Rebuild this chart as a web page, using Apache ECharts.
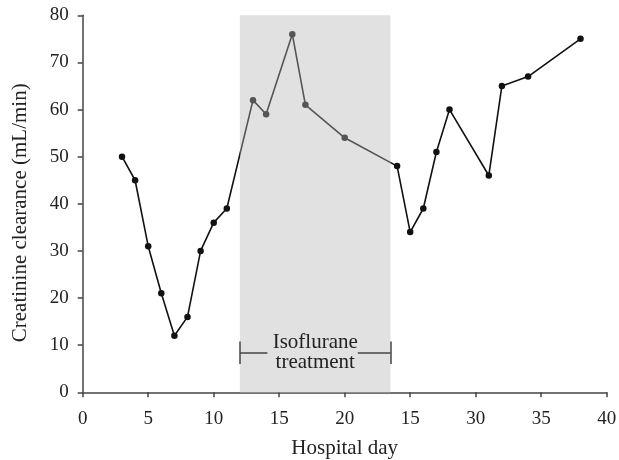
<!DOCTYPE html>
<html><head><meta charset="utf-8">
<script src="https://cdn.jsdelivr.net/npm/echarts@6/dist/echarts.min.js"></script>
<style>html,body{margin:0;padding:0;background:#fff}#c{width:619px;height:460px}</style>
</head><body><div id="c"></div>
<script>
const days = [3,4,5,6,7,8,9,10,11,13,14,16,17,20,24,25,26,27,28,31,32,34,38];
const clearance = [50,45,31,21,12,16,30,36,39,62,59,76,61,54,48,34,39,51,60,46,65,67,75];
const xTicks = [0,40,5];
const xTickLabels = ['0','5','10','15','20','15','30','35','40'];
const yTicks = [0,80,10];
const treatmentRange = [12,23.5];
const bracketY = 8.4;
const bracketGap = [14.1,21.0];
const treatmentLabel = 'Isoflurane\ntreatment';
const FONT = 'Liberation Serif';

const chart = echarts.init(document.getElementById('c'));
chart.setOption({
  animation:false,
  grid:{left:82.7,right:12.3,top:15.3,bottom:67.7,containLabel:false,outerBoundsMode:'none'},
  xAxis:{type:'value',min:xTicks[0],max:xTicks[1],interval:xTicks[2],
    name:'Hospital day',nameLocation:'middle',nameGap:46,
    nameTextStyle:{fontFamily:FONT,fontSize:21,color:'#222'},
    axisLine:{lineStyle:{color:'#444',width:1.5}},
    axisTick:{show:true,length:5,lineStyle:{color:'#444',width:1.5}},
    axisLabel:{fontFamily:FONT,fontSize:19,color:'#222',margin:17,
      formatter:v=>{const i=Math.round((v-xTicks[0])/xTicks[2]);return xTickLabels[i]!==undefined?xTickLabels[i]:String(v);}},
    splitLine:{show:false}},
  yAxis:{type:'value',min:yTicks[0],max:yTicks[1],interval:yTicks[2],
    name:'Creatinine clearance (mL/min)',nameLocation:'middle',nameGap:52,
    nameTextStyle:{fontFamily:FONT,fontSize:21,color:'#222',padding:[0,18,0,0]},
    axisLine:{show:true,lineStyle:{color:'#444',width:1.5}},
    axisTick:{show:true,length:5,lineStyle:{color:'#444',width:1.5}},
    axisLabel:{fontFamily:FONT,fontSize:19,color:'#222',margin:14},
    splitLine:{show:false}},
  visualMap:{type:'piecewise',show:false,dimension:0,seriesIndex:0,
    pieces:[{lt:treatmentRange[0],color:'#111'},
            {gte:treatmentRange[0],lte:treatmentRange[1],color:'#555'},
            {gt:treatmentRange[1],color:'#111'}]},
  series:[
    {type:'line',data:days.map((d,i)=>[d,clearance[i]]),
     symbol:'circle',symbolSize:6.5,lineStyle:{width:1.6},z:5,
     markArea:{silent:true,itemStyle:{color:'#e1e1e1'},
       data:[[{xAxis:treatmentRange[0],yAxis:yTicks[1]},{xAxis:treatmentRange[1],yAxis:yTicks[0]}]]}},
    {type:'line',data:[],z:6,
     markLine:{silent:true,symbol:['none','none'],label:{show:false},
       lineStyle:{color:'#444',width:1.5,type:'solid'},
       data:[
         [{coord:[treatmentRange[0],bracketY]},{coord:[bracketGap[0],bracketY]}],
         [{coord:[bracketGap[1],bracketY]},{coord:[treatmentRange[1],bracketY]}],
         [{coord:[treatmentRange[0],bracketY-2.4]},{coord:[treatmentRange[0],bracketY+2.4]}],
         [{coord:[treatmentRange[1],bracketY-2.4]},{coord:[treatmentRange[1],bracketY+2.4]}]
       ]},
     markPoint:{silent:true,symbol:'circle',symbolSize:0,
       label:{show:true,formatter:treatmentLabel,fontFamily:FONT,fontSize:21,color:'#222',lineHeight:20,align:'center',verticalAlign:'middle'},
       data:[{coord:[(treatmentRange[0]+treatmentRange[1])/2,bracketY]}]}}
  ]
});
</script></body></html>
